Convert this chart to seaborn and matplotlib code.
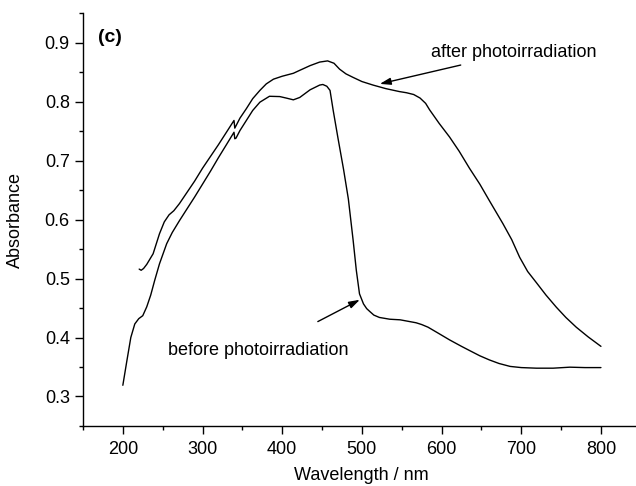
import pandas as pd
import matplotlib
matplotlib.use("Agg")
import matplotlib.pyplot as plt
import seaborn as sns
from matplotlib.ticker import MultipleLocator

# %% spectra
wl_before = [200, 205, 210, 215, 220, 225, 230, 235, 240, 246, 255, 262, 271,
             280, 290, 300, 310, 320, 330, 339.5, 340.5, 342, 347, 355, 363,
             372, 384, 397, 405, 414, 422, 435, 447, 451, 456, 460, 464, 470,
             477, 483, 489, 493, 497, 502, 506, 510, 515, 522, 535, 548,
             560, 568, 575, 583, 595, 610, 625, 635, 648, 660, 672, 686, 700,
             719, 740, 761, 780, 800]
abs_before = [0.319, 0.36, 0.40, 0.423, 0.432, 0.437, 0.452, 0.472, 0.497,
              0.525, 0.559, 0.578, 0.598, 0.617, 0.638, 0.66, 0.682, 0.705,
              0.727, 0.748, 0.737, 0.738, 0.751, 0.768, 0.785, 0.799, 0.809,
              0.8085, 0.806, 0.803, 0.807, 0.820, 0.828, 0.829, 0.826, 0.819,
              0.785, 0.738, 0.685, 0.635, 0.565, 0.514, 0.474, 0.457,
              0.449, 0.444, 0.438, 0.434, 0.431, 0.430, 0.427, 0.425, 0.422,
              0.4175, 0.408, 0.396, 0.385, 0.378, 0.369, 0.362, 0.356, 0.351,
              0.349, 0.348, 0.348, 0.3497, 0.349, 0.349]

wl_after = [220.5, 223, 226, 230, 238, 246, 252, 258, 264, 271, 280, 290, 300,
            310, 320, 330, 339.5, 340.5, 347, 355, 363, 372, 380, 389, 400,
            414, 422, 435, 447, 457, 465, 472, 480, 489, 500, 514, 530, 547,
            556, 565, 573, 580, 585, 597, 610, 622, 635, 648, 660, 677, 688,
            698, 708, 719, 731, 744, 756, 769, 784, 800]
abs_after = [0.516, 0.514, 0.517, 0.524, 0.542, 0.576, 0.596, 0.608, 0.615,
             0.627, 0.645, 0.665, 0.687, 0.707, 0.727, 0.748, 0.768, 0.755,
             0.772, 0.788, 0.805, 0.819, 0.830, 0.838, 0.843, 0.848, 0.853,
             0.861, 0.867, 0.869, 0.865, 0.855, 0.847, 0.841, 0.834, 0.828,
             0.822, 0.817, 0.815, 0.812, 0.806, 0.797, 0.786, 0.763, 0.74,
             0.716, 0.687, 0.66, 0.632, 0.593, 0.566, 0.536, 0.512, 0.493,
             0.472, 0.4514, 0.434, 0.4175, 0.401, 0.385]

df = pd.concat([
    pd.DataFrame({"wl": wl_before, "A": abs_before, "state": "before"}),
    pd.DataFrame({"wl": wl_after, "A": abs_after, "state": "after"}),
])

# %%
sns.set_style("ticks")
plt.rcParams["font.family"] = ["Liberation Sans", "DejaVu Sans"]
plt.rcParams["font.size"] = 13
plt.rcParams["text.color"] = "black"
plt.rcParams["axes.labelcolor"] = "black"

fig = plt.figure(figsize=(6.36, 4.86), dpi=100)
ax = fig.add_axes([0.1305, 0.1235, 0.8695, 0.8495])
sns.despine(ax=ax)

sns.lineplot(data=df, x="wl", y="A", hue="state", units="state",
             estimator=None, sort=False, palette={"before": "black", "after": "black"},
             linewidth=1.0, legend=False, ax=ax)

ax.set_xlim(150, 844)
ax.set_ylim(0.25, 0.95)
ax.xaxis.set_major_locator(MultipleLocator(100))
ax.xaxis.set_minor_locator(MultipleLocator(50))
ax.yaxis.set_major_locator(MultipleLocator(0.1))
ax.yaxis.set_minor_locator(MultipleLocator(0.05))
ax.tick_params(which="major", length=6, width=1, direction="out", labelsize=13, colors="black")
ax.tick_params(which="minor", length=3.2, width=1, direction="out", colors="black")
ax.tick_params(axis="x", pad=5)
for s in ["left", "bottom"]:
    ax.spines[s].set_linewidth(1.0)
    ax.spines[s].set_color("black")

ax.set_xlabel("Wavelength / nm", fontsize=13)
ax.set_ylabel("Absorbance", fontsize=13)
ax.xaxis.set_label_coords(0.503, -0.10)
ax.yaxis.set_label_coords(-0.107, 0.5)

ax.text(168.6, 0.908, "(c)", fontsize=14, fontweight="bold", va="center", ha="left")

ax.annotate("after photoirradiation", xy=(522.5, 0.830), xytext=(587, 0.883),
            fontsize=13, va="center", ha="left",
            arrowprops=dict(arrowstyle="-|>,head_length=0.5,head_width=0.16",
                            color="black", lw=1.0, shrinkA=2, shrinkB=0))
ax.annotate("", xy=(497.4, 0.464), xytext=(444.7, 0.427),
            arrowprops=dict(arrowstyle="-|>,head_length=0.5,head_width=0.16",
                            color="black", lw=1.0, shrinkA=0, shrinkB=0))
ax.text(256.8, 0.378, "before photoirradiation", fontsize=13, va="center", ha="left")

fig.savefig("out.png", dpi=100)
